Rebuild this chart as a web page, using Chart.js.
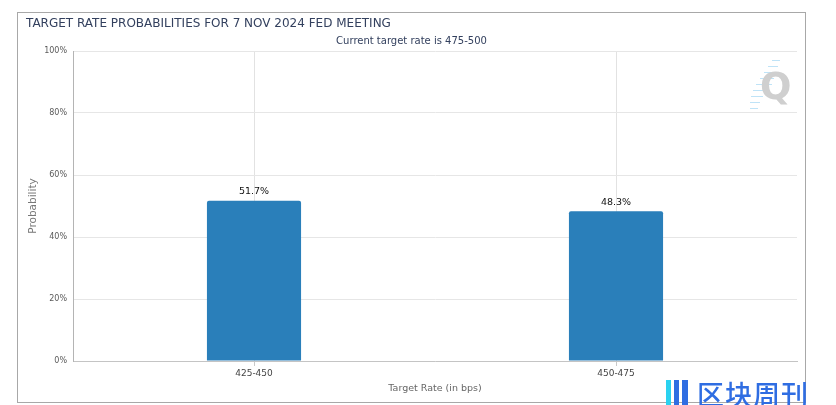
<!DOCTYPE html>
<html>
<head>
<meta charset="utf-8">
<script src="https://cdn.jsdelivr.net/npm/chart.js@4"></script>
<style>
	body { margin: 0; background: #fff; width: 836px; height: 405px; position: relative; overflow: hidden; }
	#box { position: absolute; left: 17px; top: 12px; width: 789px; height: 391px; border: 1px solid #a8a8a8; box-sizing: border-box; }
	#wrap { position: absolute; left: 0; top: 0; width: 787px; height: 389px; }
	#qmark { position: absolute; left: 760px; top: 65px; font: bold 37px 'DejaVu Sans', sans-serif; color: #cfcfcf; }
	.dash { position: absolute; height: 1px; background: #bfe3f7; }
	#brand { position: absolute; left: 664px; top: 376px; height: 30px; }
	#brand span.txt { position: absolute; left: 33px; top: -2px; font: 500 27px 'Noto Sans CJK SC', sans-serif; color: #2f6de2; letter-spacing: 1px; white-space: nowrap; }
	#brand i { position: absolute; display: block; top: 4px; height: 26px; }
</style>
</head>
<body>
<div id="box"><div id="wrap"><canvas id="rateChart"></canvas></div></div>
<div id="qmark">Q</div>
<div id="brand">
	<i style="left:2px;width:5px;background:#2ad2f0"></i>
	<i style="left:10px;width:5px;background:#2f6de2"></i>
	<i style="left:18px;width:6px;background:#2f6de2"></i>
	<span class="txt">区块周刊</span>
</div>
<script>
const rateBuckets = [ '425-450', '450-475' ];
const probabilities = [ 51.7, 48.3 ];
const yTicks = [ 0, 20, 40, 60, 80, 100 ];

// faint streaks behind the Q logo
[ [ 772, 60, 8 ], [ 768, 66, 10 ], [ 764, 72, 12 ], [ 760, 78, 14 ], [ 756, 84, 16 ], [ 753, 90, 14 ], [ 751, 96, 12 ], [ 750, 102, 10 ], [ 750, 108, 8 ] ].forEach( function( d ) {
	const el = document.createElement( 'div' );
	el.className = 'dash';
	el.style.left = d[ 0 ] + 'px';
	el.style.top = d[ 1 ] + 'px';
	el.style.width = d[ 2 ] + 'px';
	document.body.insertBefore( el, document.getElementById( 'qmark' ) );
} );

const barLabels = {
	id: 'barLabels',
	afterDatasetsDraw( chart ) {
		const ctx = chart.ctx;
		const meta = chart.getDatasetMeta( 0 );
		ctx.save();
		ctx.font = '9.5px "DejaVu Sans", sans-serif';
		ctx.fillStyle = '#111';
		ctx.textAlign = 'center';
		ctx.textBaseline = 'bottom';
		meta.data.forEach( function( bar, i ) {
			ctx.fillText( probabilities[ i ].toFixed( 1 ) + '%', bar.x, bar.y - 4 );
		} );
		ctx.restore();
	},
};

new Chart( document.getElementById( 'rateChart' ), {
	type: 'bar',
	data: {
		labels: rateBuckets,
		datasets: [
			{
				data: probabilities,
				backgroundColor: '#2a7fba',
				borderRadius: { topLeft: 2, topRight: 2 },
				borderSkipped: 'bottom',
				categoryPercentage: 1,
				barPercentage: 0.26,
			},
		],
	},
	options: {
		responsive: true,
		maintainAspectRatio: false,
		animation: false,
		layout: { padding: { left: 8, right: 8, top: 0, bottom: 0 } },
		plugins: {
			legend: { display: false },
			tooltip: { enabled: false },
			title: {
				display: true,
				text: 'TARGET RATE PROBABILITIES FOR 7 NOV 2024 FED MEETING',
				align: 'start',
				color: '#33405e',
				font: { family: 'DejaVu Sans', size: 12, weight: 'normal' },
				padding: { top: 4, bottom: 2 },
			},
			subtitle: {
				display: true,
				text: 'Current target rate is 475-500',
				color: '#33405e',
				font: { family: 'DejaVu Sans', size: 10 },
				padding: { top: 2, bottom: 3.6 },
			},
		},
		scales: {
			x: {
				grid: { offset: false, color: '#e2e2e2', tickLength: 5, tickColor: '#c8c8c8' },
				border: { color: '#c4c4c4' },
				ticks: { color: '#444', font: { family: 'DejaVu Sans', size: 9 }, padding: 2 },
				title: {
					display: true,
					text: 'Target Rate (in bps)',
					color: '#666',
					font: { family: 'DejaVu Sans', size: 9.5 },
					padding: { top: 4, bottom: 8 },
				},
				afterFit( axis ) {
					axis.height = 41;
				},
			},
			y: {
				min: 0,
				max: 100,
				afterBuildTicks( axis ) {
					axis.ticks = yTicks.map( function( v ) {
						return { value: v };
					} );
				},
				grid: { color: '#e6e6e6', drawTicks: false },
				border: { color: '#b4b4b4' },
				ticks: {
					color: '#5a5a5a',
					font: { family: 'DejaVu Sans', size: 8 },
					padding: 6,
					callback( v ) {
						return v + '%';
					},
				},
				title: {
					display: true,
					text: 'Probability',
					color: '#777',
					font: { family: 'DejaVu Sans', size: 10.5 },
					padding: { top: 1, bottom: 0 },
				},
				afterFit( axis ) {
					axis.width = 47;
				},
			},
		},
	},
	plugins: [ barLabels ],
} );
</script>
</body>
</html>
